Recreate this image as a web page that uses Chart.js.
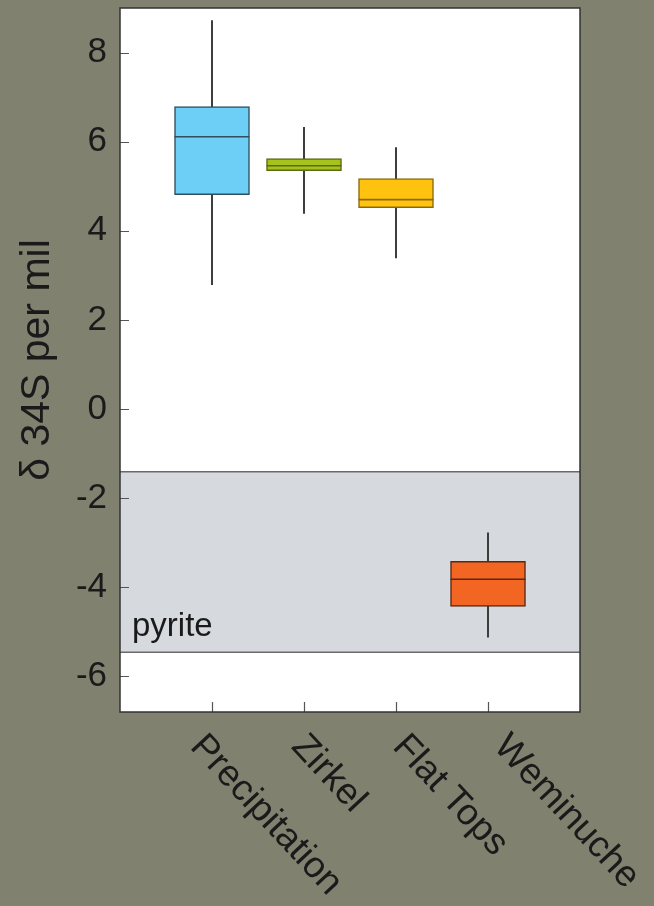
<!DOCTYPE html>
<html><head><meta charset="utf-8">
<script src="https://cdn.jsdelivr.net/npm/chart.js@4.4.0/dist/chart.umd.min.js"></script>
<style>html,body{margin:0;padding:0;background:#80816f;} #wrap{width:654px;height:906px;position:relative}</style>
</head><body><div id="wrap"><canvas id="c" width="654" height="906"></canvas></div>
<script>
const categories = ['Precipitation', 'Zirkel', 'Flat Tops', 'Weminuche'];
const whiskerLow = [2.79, 4.39, 3.39, -5.12];
const q1 = [4.81, 5.35, 4.52, -4.43];
const median = [6.11, 5.46, 4.70, -3.82];
const q3 = [6.79, 5.62, 5.17, -3.42];
const whiskerHigh = [8.72, 6.32, 5.87, -2.78];
const yTicks = [-6, -4, -2, 0, 2, 4, 6, 8];
const pyriteRange = [-5.46, -1.41];
const pyriteLabel = 'pyrite';
const yTitle = 'δ 34S per mil';

const boxColors = ['#6dcff6', '#a6c31c', '#ffc20e', '#f26522'];
const boxBorders = ['#2f4f5f', '#5a6a18', '#8a6a10', '#5a2a10'];
const FONT = '"Liberation Sans", Arial, Helvetica, sans-serif';

const decor = {
  id: 'decor',
  beforeDraw(chart) {
    const {ctx, chartArea: a} = chart;
    ctx.save();
    ctx.fillStyle = '#80816f';
    ctx.fillRect(0, 0, chart.width, chart.height);
    ctx.fillStyle = '#ffffff';
    ctx.fillRect(a.left, a.top, a.right - a.left, a.bottom - a.top);
    ctx.restore();
  },
  beforeDatasetsDraw(chart) {
    const {ctx, chartArea: a, scales: {y}} = chart;
    const yTop = y.getPixelForValue(pyriteRange[1]);
    const yBot = y.getPixelForValue(pyriteRange[0]);
    ctx.save();
    ctx.fillStyle = '#d6d9dd';
    ctx.fillRect(a.left, yTop, a.right - a.left, yBot - yTop);
    ctx.strokeStyle = '#6a6a6a';
    ctx.lineWidth = 1.5;
    ctx.beginPath();
    ctx.moveTo(a.left, yTop); ctx.lineTo(a.right, yTop);
    ctx.moveTo(a.left, yBot); ctx.lineTo(a.right, yBot);
    ctx.stroke();
    ctx.fillStyle = '#1a1a1a';
    ctx.font = '33px ' + FONT;
    ctx.textAlign = 'left';
    ctx.textBaseline = 'alphabetic';
    ctx.fillText(pyriteLabel, a.left + 12, yBot - 16);
    ctx.restore();
  },
  afterDatasetsDraw(chart) {
    const {ctx, chartArea: a, scales: {x, y}} = chart;
    ctx.save();
    ctx.strokeStyle = '#555';
    ctx.lineWidth = 1.2;
    ctx.beginPath();
    yTicks.forEach(v => {
      const py = Math.round(y.getPixelForValue(v)) + 0.5;
      ctx.moveTo(a.left, py); ctx.lineTo(a.left + 9, py);
    });
    categories.forEach((c, i) => {
      const px = Math.round(x.getPixelForValue(i + 1)) + 0.5;
      ctx.moveTo(px, a.bottom); ctx.lineTo(px, a.bottom - 10);
    });
    ctx.stroke();
    ctx.strokeStyle = '#333';
    ctx.lineWidth = 1.5;
    ctx.strokeRect(a.left, a.top, a.right - a.left, a.bottom - a.top);
    // rotated category labels
    ctx.fillStyle = '#1a1a1a';
    ctx.font = '37px ' + FONT;
    ctx.textAlign = 'left';
    ctx.textBaseline = 'top';
    const px0 = x.getPixelForValue(1);
    categories.forEach((c, i) => {
      const px = x.getPixelForValue(i + 1);
      const lx = px0 + (px - px0) * 1.1;
      ctx.save();
      ctx.translate(lx - 2, a.bottom + 16);
      ctx.rotate(47 * Math.PI / 180);
      ctx.fillText(c, 0, 0);
      ctx.restore();
    });
    ctx.restore();
  }
};

new Chart(document.getElementById('c'), {
  type: 'bar',
  data: {
    datasets: [
      {
        type: 'scatter',
        data: categories.map((c, i) => ({x: i + 1, y: median[i]})),
        pointStyle: 'line',
        pointRadius: 37.5,
        pointHoverRadius: 37.5,
        pointBorderColor: boxBorders,
        pointBorderWidth: 1.6,
        order: 0
      },
      {
        type: 'bar',
        data: categories.map((c, i) => ({x: i + 1, y: [q1[i], q3[i]]})),
        backgroundColor: boxColors,
        borderColor: boxBorders,
        borderWidth: 1.5,
        borderSkipped: false,
        barThickness: 75,
        grouped: false,
        order: 1
      },
      {
        type: 'bar',
        data: categories.map((c, i) => ({x: i + 1, y: [whiskerLow[i], whiskerHigh[i]]})),
        backgroundColor: '#3a3a3a',
        borderWidth: 0,
        barThickness: 1.3,
        grouped: false,
        order: 2
      }
    ]
  },
  options: {
    responsive: false,
    animation: false,
    devicePixelRatio: 1,
    layout: {autoPadding: false, padding: {left: 0, top: 8, right: 74, bottom: 194}},
    plugins: {legend: {display: false}, tooltip: {enabled: false}},
    scales: {
      x: {
        type: 'linear', min: 0, max: 5, offset: false,
        grid: {display: false, drawTicks: false},
        border: {display: false},
        ticks: {display: false},
        afterFit: s => { s.height = 0; s.paddingLeft = 0; s.paddingRight = 0; }
      },
      y: {
        type: 'linear', min: -6.8, max: 9,
        grid: {display: false, drawTicks: false},
        border: {display: false},
        afterBuildTicks: s => { s.ticks = yTicks.map(v => ({value: v})); },
        ticks: {font: {size: 35, family: FONT}, color: '#1a1a1a', padding: 13},
        title: {display: true, text: yTitle, font: {size: 41, family: FONT}, color: '#1a1a1a', padding: {top: 13, bottom: 0}},
        afterFit: s => { s.width = 120; s.paddingTop = 0; s.paddingBottom = 0; }
      }
    }
  },
  plugins: [decor]
});
</script>
</body></html>
